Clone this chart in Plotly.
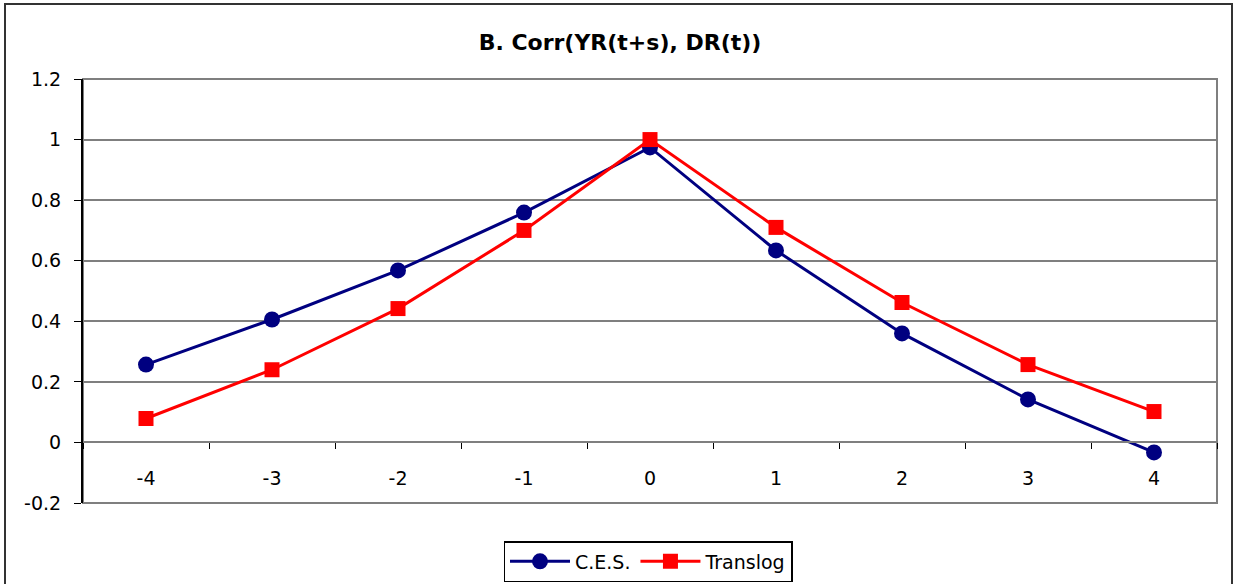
import plotly.graph_objects as go

lags = [-4, -3, -2, -1, 0, 1, 2, 3, 4]
ces = [0.257, 0.406, 0.568, 0.759, 0.974, 0.634, 0.360, 0.142, -0.033]
translog = [0.079, 0.240, 0.442, 0.700, 1.000, 0.710, 0.462, 0.257, 0.102]
lag_labels = [str(v) for v in lags]
boundaries = [v + 0.5 for v in [-5] + lags]
ytick_vals = [-0.2, 0, 0.2, 0.4, 0.6, 0.8, 1, 1.2]
ytick_text = ["-0.2", "0", "0.2", "0.4", "0.6", "0.8", "1", "1.2"]

font = "DejaVu Sans, Liberation Sans, Arial, sans-serif"

W, H = 1233, 584
L, R, T, B = 83, 16, 79, 81
pw, ph = W - L - R, H - T - B

fig = go.Figure()
fig.add_trace(go.Scatter(
    x=lags, y=ces, name="C.E.S.", mode="lines+markers",
    line=dict(color="#000080", width=3),
    marker=dict(symbol="circle", size=16, color="#000080"),
))
fig.add_trace(go.Scatter(
    x=lags, y=translog, name="Translog", mode="lines+markers",
    line=dict(color="#FF0000", width=3),
    marker=dict(symbol="square", size=15, color="#FF0000"),
))
# invisible trace for category-boundary tick axis
fig.add_trace(go.Scatter(x=boundaries, y=[None] * len(boundaries), xaxis="x2",
                         showlegend=False, hoverinfo="skip"))

zero_pos = (0 - (-0.2)) / 1.4
tick_font = dict(family=font, size=19, color="black")

fig.update_layout(
    width=W, height=H,
    margin=dict(l=L, r=R, t=T, b=B, autoexpand=False),
    paper_bgcolor="white", plot_bgcolor="white",
    font=dict(family=font, size=19, color="black"),
    title=dict(text="<b>B. Corr(YR(t+s), DR(t))</b>", x=(620 - L) / pw, xanchor="center",
               xref="paper",
               y=1 - 42 / H, yanchor="middle", yref="container",
               font=dict(size=22, family=font, color="black")),
    xaxis=dict(range=[-4.5, 4.5], tickvals=lags, ticktext=lag_labels,
               anchor="free", position=zero_pos, showgrid=False, zeroline=False,
               showline=True, linecolor="#7f7f7f", linewidth=2, tickfont=tick_font,
               ticks="", ticklabelstandoff=19, fixedrange=True),
    xaxis2=dict(range=[-4.5, 4.5], overlaying="x", anchor="free", position=zero_pos,
                tickvals=boundaries, showticklabels=False, ticks="outside",
                ticklen=6, tickwidth=1, tickcolor="black", showgrid=False,
                zeroline=False, showline=False),
    yaxis=dict(range=[-0.2, 1.2], tickvals=ytick_vals, ticktext=ytick_text,
               showgrid=True, gridcolor="#7f7f7f", gridwidth=2, zeroline=False,
               showline=True, linecolor="black", linewidth=2, ticks="outside",
               ticklen=7, tickcolor="black", ticklabelstandoff=9, tickfont=tick_font),
    legend=dict(orientation="h", x=(648 - L) / pw, xanchor="center",
                y=-(541 - (H - B)) / ph, yanchor="top",
                bordercolor="black", borderwidth=1.5, bgcolor="white",
                font=dict(size=19, family=font), itemwidth=60, tracegroupgap=0),
    showlegend=True,
)

# plot area border (gray)
fig.add_shape(type="rect", xref="paper", yref="paper", x0=0, x1=1, y0=0, y1=1,
              line=dict(color="#7f7f7f", width=2), layer="below")
# outer chart border
fig.add_shape(type="rect", xref="paper", yref="paper",
              x0=(5 - L) / pw, x1=(1232 - L) / pw,
              y0=-(600 - (H - B)) / ph, y1=1 + (T - 4) / ph,
              line=dict(color="#333333", width=2), layer="below")

fig.write_html("out.html", config={"displayModeBar": False},
               post_script="document.body.style.margin='0';")
